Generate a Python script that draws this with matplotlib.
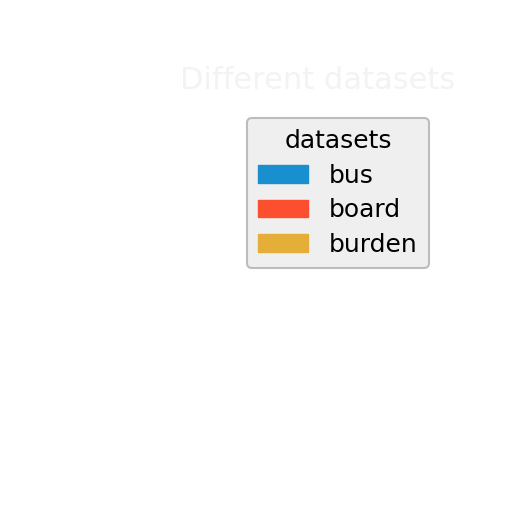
import matplotlib
matplotlib.use("Agg")
import matplotlib.pyplot as plt
import matplotlib.patches as mpatches

#Legend data
datasets = ["bus", "board", "burden"]
colors = ["#1a8fd0", "#fc4f30", "#e5ae38"]

fig = plt.figure(figsize=(5.12, 5.12), dpi=100)
fig.patch.set_facecolor("white")

#faint blurred title behind the legend
fig.text(0.62, 0.843, "Different datasets", ha="center", va="center",
         fontsize=22, color="#f3f3f3")

handles = [mpatches.Patch(color=c, label=d) for d, c in zip(datasets, colors)]
leg = fig.legend(handles=handles, title="datasets", loc="center",
                 bbox_to_anchor=(0.66, 0.623), fontsize=18, title_fontsize=18,
                 frameon=True, fancybox=True, framealpha=1.0, labelspacing=0.42,
                 handlelength=2.0, handleheight=0.7, handletextpad=0.85,
                 borderpad=0.45)
frame = leg.get_frame()
frame.set_facecolor("#efefef")
frame.set_edgecolor("#bcbcbc")
frame.set_linewidth(1.5)

fig.savefig("out.png", dpi=100, facecolor="white")
